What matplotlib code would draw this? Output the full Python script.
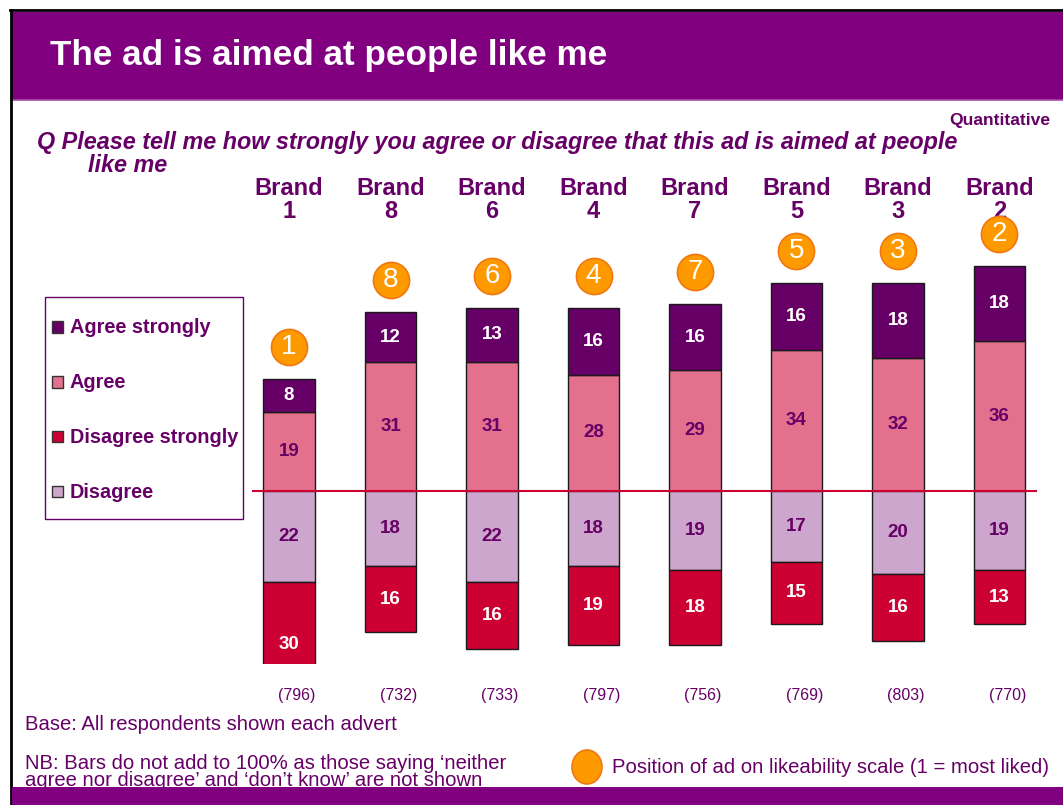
import matplotlib
matplotlib.use("Agg")
import matplotlib.pyplot as plt
from matplotlib.patches import Rectangle, Ellipse
from matplotlib.transforms import offset_copy, blended_transform_factory
import numpy as np

plt.rcParams['font.family'] = ['Liberation Sans', 'DejaVu Sans']

# ---- data ----
brands = ["Brand\n1", "Brand\n8", "Brand\n6", "Brand\n4", "Brand\n7", "Brand\n5", "Brand\n3", "Brand\n2"]
agree_strongly = [8, 12, 13, 16, 16, 16, 18, 18]
agree = [19, 31, 31, 28, 29, 34, 32, 36]
disagree = [22, 18, 22, 18, 19, 17, 20, 19]
disagree_strongly = [30, 16, 16, 19, 18, 15, 16, 13]
likeability_rank = [1, 8, 6, 4, 7, 5, 3, 2]
base_sizes = ["(796)", "(732)", "(733)", "(797)", "(756)", "(769)", "(803)", "(770)"]
legend_labels = ["Agree strongly", "Agree", "Disagree strongly", "Disagree"]

PURPLE = "#660066"
BANNER = "#800080"
C_AS = "#660066"
C_A = "#E3718E"
C_D = "#CCA6CC"
C_DS = "#CC0033"
ORANGE = "#FF9900"
ORANGE_EDGE = "#F07810"

W, H = 1063, 805
fig = plt.figure(figsize=(W / 100, H / 100), dpi=100)


def fx(px):
    return px / W


def fy(py):
    return 1 - py / H


# slide frame and banners
fig.add_artist(Rectangle((fx(12), fy(100)), fx(1063 - 12), (100 - 12) / H,
                         transform=fig.transFigure, facecolor=BANNER, edgecolor='none', zorder=1))
fig.add_artist(plt.Line2D([fx(12), 1], [fy(100.5), fy(100.5)], transform=fig.transFigure,
                          color="#A84AA8", lw=1.2, zorder=2))
fig.add_artist(plt.Line2D([fx(10), 1], [fy(10.5), fy(10.5)], transform=fig.transFigure,
                          color="black", lw=2, zorder=3))
fig.add_artist(plt.Line2D([fx(10.5), fx(10.5)], [0, fy(10)], transform=fig.transFigure,
                          color="black", lw=2, zorder=3))
fig.add_artist(Rectangle((fx(12), 0), fx(1063 - 12), 18 / H,
                         transform=fig.transFigure, facecolor=BANNER, edgecolor='none', zorder=10))

fig.text(fx(50), fy(56), "The ad is aimed at people like me", color="white",
         fontsize=25.3, fontweight='bold', va='center', ha='left', zorder=5)
fig.text(fx(1050), fy(120), "Quantitative", color=PURPLE, fontsize=12.6,
         fontweight='bold', ha='right', va='center')
fig.text(fx(37), fy(143), "Q Please tell me how strongly you agree or disagree that this ad is aimed at people",
         color=PURPLE, fontsize=16.8, fontweight='bold', fontstyle='italic', ha='left', va='center')
fig.text(fx(88), fy(166), "like me", color=PURPLE, fontsize=16.8, fontweight='bold',
         fontstyle='italic', ha='left', va='center')

# ---- chart ----
ax = fig.add_axes([fx(252), fy(663.6), fx(1037 - 252), (663.6 - 241.4) / H])
x = np.arange(len(brands))
bw = 0.51
edge = dict(edgecolor="#1a1a1a", linewidth=1)

ag = np.array(agree)
ags = np.array(agree_strongly)
dis = np.array(disagree)
dss = np.array(disagree_strongly)

ax.bar(x, ag, bw, color=C_A, **edge, zorder=2)
ax.bar(x, ags, bw, bottom=ag, color=C_AS, **edge, zorder=2)
ax.bar(x, -dis, bw, color=C_D, **edge, zorder=2)
ax.bar(x, -dss, bw, bottom=-dis, color=C_DS, **edge, zorder=2)

ax.axhline(0, color="#CC0033", lw=1.5, zorder=4)
ax.set_xlim(-0.365, 7.37)
ax.set_ylim(-41.5, 60)
ax.axis('off')

# segment values
vfs = 13.5
for i in range(len(brands)):
    ax.text(x[i], ag[i] / 2, str(agree[i]), ha='center', va='center', color=PURPLE,
            fontsize=vfs, fontweight='bold', zorder=5)
    ax.text(x[i], ag[i] + ags[i] / 2, str(agree_strongly[i]), ha='center', va='center',
            color='white', fontsize=vfs, fontweight='bold', zorder=5)
    ax.text(x[i], -dis[i] / 2, str(disagree[i]), ha='center', va='center', color=PURPLE,
            fontsize=vfs, fontweight='bold', zorder=5)
    ax.text(x[i], -dis[i] - dss[i] / 2, str(disagree_strongly[i]), ha='center', va='center',
            color='white', fontsize=vfs, fontweight='bold', zorder=5)

# likeability rank markers above each bar
trans = offset_copy(ax.transData, fig=fig, y=32, units='dots')
tops = ag + ags
ax.plot(x, tops, 'o', ms=26, mfc=ORANGE, mec=ORANGE_EDGE, mew=1.2, transform=trans,
        clip_on=False, zorder=6, ls='none')
for i in range(len(brands)):
    ax.text(x[i], tops[i], str(likeability_rank[i]), transform=trans, ha='center',
            va='center', color='white', fontsize=20, zorder=7, clip_on=False)

# brand names and base sizes
xfig = blended_transform_factory(ax.transData, fig.transFigure)
for i in range(len(brands)):
    ax.text(x[i], fy(200), brands[i], transform=xfig, ha='center', va='center',
            color=PURPLE, fontsize=17, fontweight='bold', linespacing=1.0)
    ax.text(x[i] + 0.08, fy(695), base_sizes[i], transform=xfig, ha='center',
            va='center', color=PURPLE, fontsize=11.5)

# legend box
fig.add_artist(Rectangle((fx(45), fy(519)), fx(243 - 45), (519 - 297) / H,
                         transform=fig.transFigure, facecolor='white', edgecolor=PURPLE,
                         lw=1, zorder=3))
colors = [C_AS, C_A, C_DS, C_D]
for k, (lab, col) in enumerate(zip(legend_labels, colors)):
    yc = 327 + 55 * k
    fig.add_artist(Rectangle((fx(52), fy(yc + 5.5)), fx(11), 11 / H,
                             transform=fig.transFigure, facecolor=col,
                             edgecolor="#333333", lw=1, zorder=4))
    fig.text(fx(70), fy(yc), lab, color=PURPLE, fontsize=14.3, fontweight='bold',
             ha='left', va='center', zorder=4)

# notes
fig.text(fx(25), fy(724), "Base: All respondents shown each advert", color=PURPLE,
         fontsize=14.6, ha='left', va='center')
fig.text(fx(25), fy(772), "NB: Bars do not add to 100% as those saying \u2018neither\n"
         "agree nor disagree\u2019 and \u2018don\u2019t know\u2019 are not shown",
         color=PURPLE, fontsize=14.6, ha='left', va='center', linespacing=0.82)
fig.add_artist(Ellipse((fx(587), fy(767)), 30 / W, 34 / H,
                       transform=fig.transFigure, facecolor=ORANGE,
                       edgecolor=ORANGE_EDGE, lw=1.2))
fig.text(fx(612), fy(767), "Position of ad on likeability scale (1 = most liked)",
         color=PURPLE, fontsize=14.6, ha='left', va='center')

fig.savefig("out.png", dpi=100)
